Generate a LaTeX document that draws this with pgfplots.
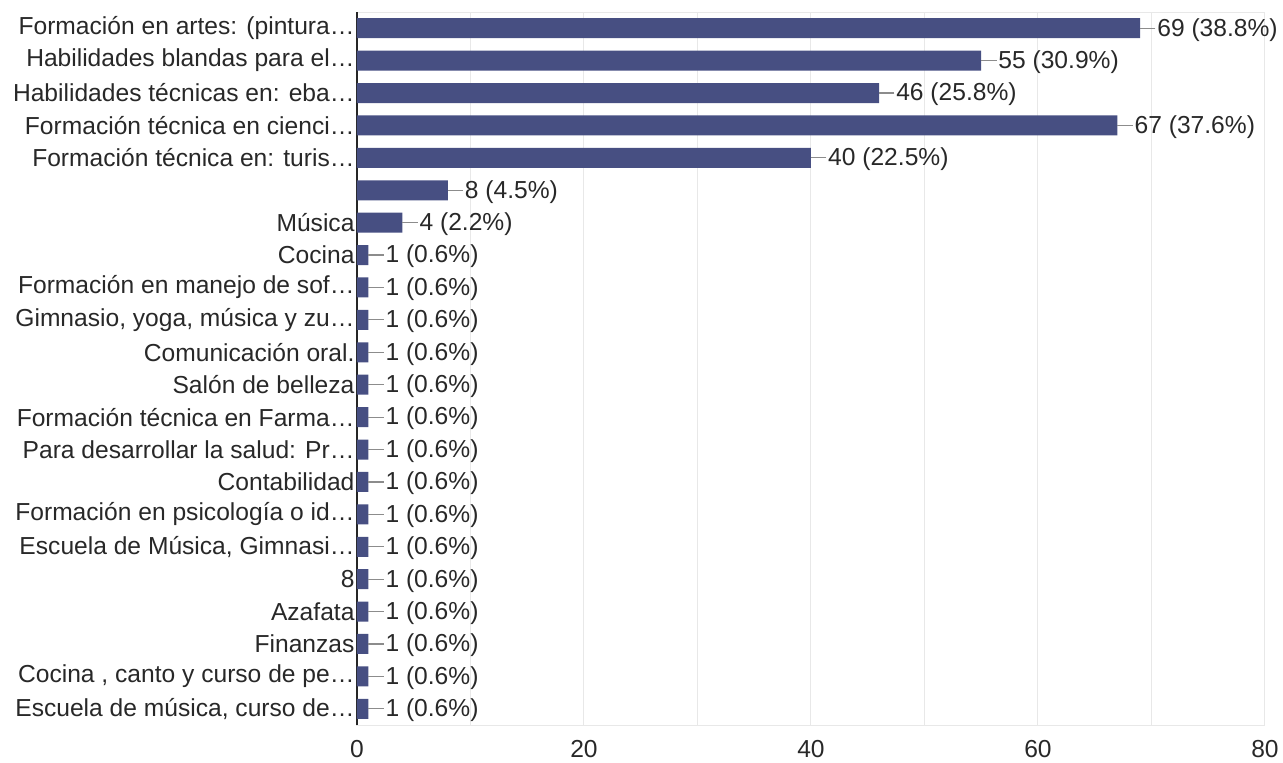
\documentclass[border=0pt]{standalone}
\usepackage{pgfplots}
\pgfplotsset{compat=1.18}
\usepackage{fontspec}
\setmainfont{Liberation Sans}
\definecolor{barc}{RGB}{71,79,130}
\definecolor{txt}{RGB}{40,40,40}
\definecolor{gridc}{RGB}{232,232,232}
\begin{document}
\begin{tikzpicture}
\useasboundingbox (-357pt,-38pt) rectangle (926pt,725pt);
\begin{axis}[
 scale only axis, width=908pt, height=713pt,
 xmin=0, xmax=80, ymin=-0.5, ymax=21.5, y dir=reverse,
 xbar, bar width=20pt, bar shift=0pt,
 xtick={0,20,40,60,80}, minor xtick={10,30,50,70},
 xmajorgrids, xminorgrids,
 grid style={gridc, line width=1pt}, minor grid style={gridc, line width=1pt},
 ytick={0,...,21},
 yticklabels={{Formación en artes: (pintura…},{Habilidades blandas para el…},{Habilidades técnicas en: eba…},{Formación técnica en cienci…},{Formación técnica en: turis…},{},{Música},{Cocina},{Formación en manejo de sof…},{Gimnasio, yoga, música y zu…},{Comunicación oral.},{Salón de belleza},{Formación técnica en Farma…},{Para desarrollar la salud: Pr…},{Contabilidad},{Formación en psicología o id…},{Escuela de Música, Gimnasi…},{8},{Azafata},{Finanzas},{Cocina , canto y curso de pe…},{Escuela de música, curso de…}},
 major tick length=0, minor tick length=0,
 axis line style={gridc, line width=1pt},
 tick label style={font=\fontsize{24.6}{28}\selectfont, text=txt},
 /pgf/number format/assume math mode=true,
 xticklabel style={yshift=-12pt},
 yticklabel style={xshift=1pt},
 extra x ticks={0}, extra x tick labels={},
 extra x tick style={grid style={black!85, line width=1.3pt}},
 nodes near coords, point meta=explicit symbolic,
 every node near coord/.append style={font=\fontsize{24.6}{28}\selectfont, text=txt, anchor=west, xshift=16pt, yshift=-1.5pt, inner sep=1pt},
 clip=false,
]
\addplot[fill=barc, draw=none,
  error bars/.cd, x dir=plus, x fixed=1.35, error mark=none,
  error bar style={black!45, line width=1.2pt}]
 coordinates {
 (69,0) [69 (38.8\%)]
 (55,1) [55 (30.9\%)]
 (46,2) [46 (25.8\%)]
 (67,3) [67 (37.6\%)]
 (40,4) [40 (22.5\%)]
 (8,5) [8 (4.5\%)]
 (4,6) [4 (2.2\%)]
 (1,7) [1 (0.6\%)]
 (1,8) [1 (0.6\%)]
 (1,9) [1 (0.6\%)]
 (1,10) [1 (0.6\%)]
 (1,11) [1 (0.6\%)]
 (1,12) [1 (0.6\%)]
 (1,13) [1 (0.6\%)]
 (1,14) [1 (0.6\%)]
 (1,15) [1 (0.6\%)]
 (1,16) [1 (0.6\%)]
 (1,17) [1 (0.6\%)]
 (1,18) [1 (0.6\%)]
 (1,19) [1 (0.6\%)]
 (1,20) [1 (0.6\%)]
 (1,21) [1 (0.6\%)]
 };
\end{axis}
\end{tikzpicture}
\end{document}
